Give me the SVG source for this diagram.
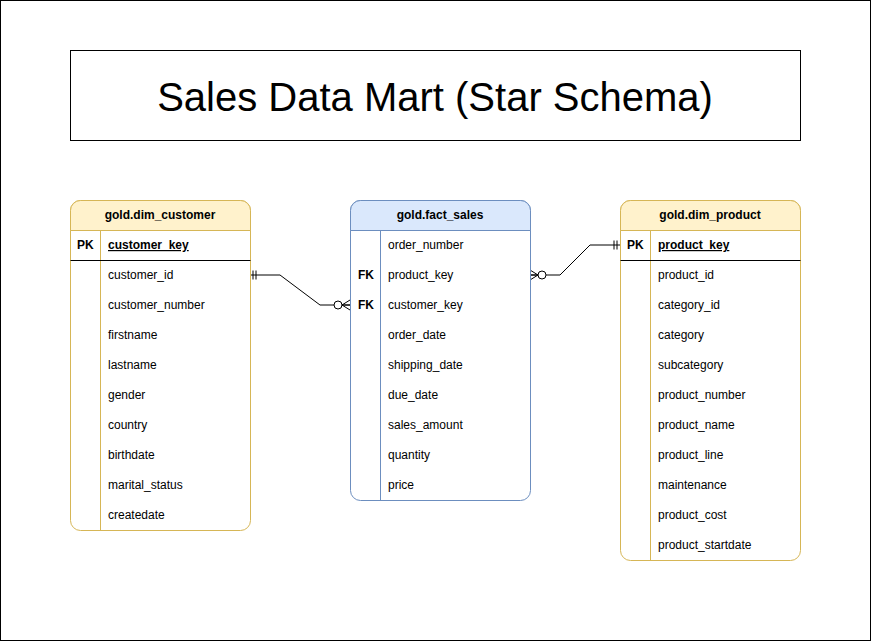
<svg xmlns="http://www.w3.org/2000/svg" width="871" height="641" viewBox="0 0 871 641">
<defs>
<style>
text{font-family:"Liberation Sans",Arial,Helvetica,sans-serif;font-size:12px;fill:#000}
.hd{font-weight:bold;text-anchor:middle}
.k{font-weight:bold}
.pk{font-weight:bold;text-decoration:underline}
.ybody{fill:#fff;stroke:#d6b656}
.yhead{fill:#fff2cc;stroke:#d6b656}
.bbody{fill:#fff;stroke:#6c8ebf}
.bhead{fill:#dae8fc;stroke:#6c8ebf}
.ysep{stroke:#d6b656}
.bsep{stroke:#6c8ebf}
.edge{fill:none;stroke:#000;stroke-width:1}
</style>
<marker id="mandOne" markerUnits="userSpaceOnUse" viewBox="-20 -10 24 20" refX="0" refY="0" markerWidth="24" markerHeight="20" orient="auto-start-reverse" overflow="visible">
<path d="M-6,-4.5V4.5M-3,-4.5V4.5" fill="none" stroke="#000"/>
</marker>
<marker id="zeroMany" markerUnits="userSpaceOnUse" viewBox="-20 -10 24 20" refX="0" refY="0" markerWidth="24" markerHeight="20" orient="auto-start-reverse" overflow="visible">
<path d="M0,-5L-8,0L0,5M-8,0H0" fill="none" stroke="#000"/>
<circle cx="-12" cy="0" r="4" fill="#fff" stroke="#000"/>
</marker>
</defs>
<rect x="0.5" y="0.5" width="870" height="640" fill="#fff" stroke="#000"/>

<g id="title">
<rect x="70.5" y="50.5" width="730" height="90" fill="#fff" stroke="#000"/>
<text x="435" y="111" style="font-size:40px;text-anchor:middle">Sales Data Mart (Star Schema)</text>
</g>

<g id="connectors">
<path class="edge" d="M250,275H280L320,305H350" marker-start="url(#mandOne)" marker-end="url(#zeroMany)"/>
<path class="edge" d="M530,275H560L590,245H620" marker-start="url(#zeroMany)" marker-end="url(#mandOne)"/>
</g>

<g id="dim_customer">
<rect class="ybody" x="70.5" y="200.5" width="180" height="330" rx="10"/>
<path class="yhead" d="M70.5,230.5V210.5A10,10 0 0 1 80.5,200.5H240.5A10,10 0 0 1 250.5,210.5V230.5Z"/>
<line class="ysep" x1="100.5" y1="230.5" x2="100.5" y2="530.5"/>
<line x1="70.5" y1="260.5" x2="250.5" y2="260.5" stroke="#000"/>
<text class="hd" x="160" y="219">gold.dim_customer</text>
<text class="k" x="77" y="249">PK</text>
<text class="pk" x="108" y="249">customer_key</text>
<text x="108" y="279">customer_id</text>
<text x="108" y="309">customer_number</text>
<text x="108" y="339">firstname</text>
<text x="108" y="369">lastname</text>
<text x="108" y="399">gender</text>
<text x="108" y="429">country</text>
<text x="108" y="459">birthdate</text>
<text x="108" y="489">marital_status</text>
<text x="108" y="519">createdate</text>
</g>

<g id="fact_sales">
<rect class="bbody" x="350.5" y="200.5" width="180" height="300" rx="10"/>
<path class="bhead" d="M350.5,230.5V210.5A10,10 0 0 1 360.5,200.5H520.5A10,10 0 0 1 530.5,210.5V230.5Z"/>
<line class="bsep" x1="380.5" y1="230.5" x2="380.5" y2="500.5"/>
<text class="hd" x="440" y="219">gold.fact_sales</text>
<text x="388" y="249">order_number</text>
<text class="k" x="358" y="279">FK</text>
<text x="388" y="279">product_key</text>
<text class="k" x="358" y="309">FK</text>
<text x="388" y="309">customer_key</text>
<text x="388" y="339">order_date</text>
<text x="388" y="369">shipping_date</text>
<text x="388" y="399">due_date</text>
<text x="388" y="429">sales_amount</text>
<text x="388" y="459">quantity</text>
<text x="388" y="489">price</text>
</g>

<g id="dim_product">
<rect class="ybody" x="620.5" y="200.5" width="180" height="360" rx="10"/>
<path class="yhead" d="M620.5,230.5V210.5A10,10 0 0 1 630.5,200.5H790.5A10,10 0 0 1 800.5,210.5V230.5Z"/>
<line class="ysep" x1="650.5" y1="230.5" x2="650.5" y2="560.5"/>
<line x1="620.5" y1="260.5" x2="800.5" y2="260.5" stroke="#000"/>
<text class="hd" x="710" y="219">gold.dim_product</text>
<text class="k" x="627" y="249">PK</text>
<text class="pk" x="658" y="249">product_key</text>
<text x="658" y="279">product_id</text>
<text x="658" y="309">category_id</text>
<text x="658" y="339">category</text>
<text x="658" y="369">subcategory</text>
<text x="658" y="399">product_number</text>
<text x="658" y="429">product_name</text>
<text x="658" y="459">product_line</text>
<text x="658" y="489">maintenance</text>
<text x="658" y="519">product_cost</text>
<text x="658" y="549">product_startdate</text>
</g>
</svg>
